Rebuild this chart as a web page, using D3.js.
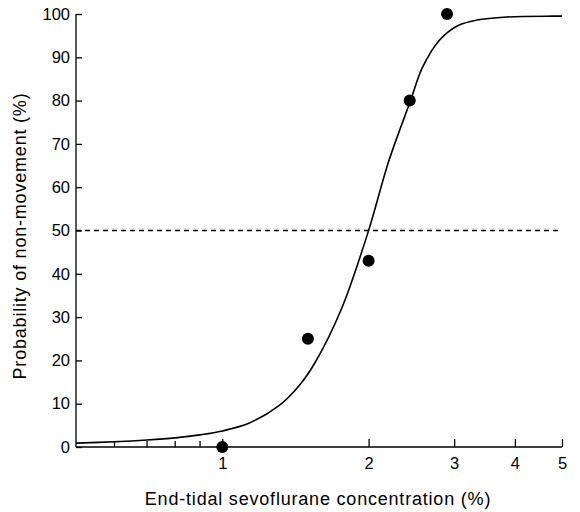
<!DOCTYPE html>
<html lang="en">
<head>
<meta charset="utf-8">
<title>Sevoflurane non-movement</title>
<script src="https://d3js.org/d3.v7.min.js"></script>
<style>
  body { margin: 0; background: #fff; }
  text { font-family: "Liberation Sans", Arial, Helvetica, sans-serif; fill: #000; }
  .axis path, .axis line { stroke: #000; stroke-width: 1.3; }
</style>
</head>
<body>
<script>
// observed points
var obsConc = [1, 1.5, 2, 2.43, 2.9];
var obsProb = [0, 25, 43, 80, 100];

// fitted curve
var curveConc = [0.5, 0.6, 0.7, 0.8, 0.9, 1.0, 1.14, 1.31, 1.44, 1.55, 1.76, 2.0, 2.2, 2.44, 2.58, 2.8, 3.05, 3.34, 3.85, 4.78, 5];
var curveProb = [0.9, 1.2, 1.6, 2.1, 2.8, 3.7, 5.6, 9.6, 14.2, 19.4, 32, 50, 66, 80, 87.6, 94, 97.3, 98.6, 99.3, 99.5, 99.5];

var xMajor = [1, 2, 3, 4, 5];
var xMinor = [0.6, 0.7, 0.8, 0.9];
var yTicks = [0, 10, 20, 30, 40, 50, 60, 70, 80, 90, 100];

var w = 580, h = 512;
var margin = {top: 14, right: 18, bottom: 65, left: 76};
var innerW = w - margin.left - margin.right,
    innerH = h - margin.top - margin.bottom;

var x = d3.scaleLog().domain([0.5, 5]).range([0, innerW]);
var y = d3.scaleLinear().domain([0, 100]).range([innerH, 0]);

var svg = d3.select('body').append('svg')
    .attr('width', w)
    .attr('height', h)
  .append('g')
    .attr('transform', 'translate(' + [margin.left, margin.top] + ')');

// y axis
var yAxis = d3.axisLeft(y).tickValues(yTicks).tickSize(-6).tickPadding(3);
svg.append('g').attr('class', 'y axis')
    .call(yAxis)
    .call(function(g) {
      g.select('.domain').attr('d', 'M0,' + innerH + 'V0');
      g.selectAll('text').style('font-size', '16.5px').attr('x', -6);
    });

// x axis, ticks pointing up
var xAxis = d3.axisBottom(x).tickValues(xMajor).tickFormat(d3.format('d')).tickSize(-8).tickPadding(6);
var gx = svg.append('g').attr('class', 'x axis')
    .attr('transform', 'translate(0,' + innerH + ')')
    .call(xAxis)
    .call(function(g) {
      g.select('.domain').attr('d', 'M0,0H' + innerW);
      g.selectAll('text').style('font-size', '16.5px').attr('y', 10);
    });
gx.selectAll('.minor')
    .data(xMinor)
  .enter().append('line')
    .attr('class', 'minor')
    .attr('x1', function(d) { return x(d); })
    .attr('x2', function(d) { return x(d); })
    .attr('y1', 0).attr('y2', -6);

// 50% reference
svg.append('line')
    .attr('x1', 0).attr('x2', innerW - 2)
    .attr('y1', y(50)).attr('y2', y(50))
    .style('stroke', '#000').style('stroke-width', 1.4)
    .style('stroke-dasharray', '5,4');

// fitted curve
var pts = curveConc.map(function(c, i) { return [x(c), y(curveProb[i])]; });
var line = d3.line().curve(d3.curveCatmullRom.alpha(0.5));
svg.append('path')
    .attr('d', line(pts))
    .style('fill', 'none').style('stroke', '#000').style('stroke-width', 1.6);

// observed points
svg.selectAll('.dot')
    .data(obsConc)
  .enter().append('circle')
    .attr('class', 'dot')
    .attr('cx', function(d) { return x(d); })
    .attr('cy', function(d, i) { return y(obsProb[i]); })
    .attr('r', 6)
    .style('fill', '#000');

// axis titles
svg.append('text')
    .attr('x', innerW / 2 - 1)
    .attr('y', innerH + 58)
    .attr('text-anchor', 'middle')
    .style('font-size', '18px')
    .style('letter-spacing', '0.8px')
    .text('End-tidal sevoflurane concentration (%)');
svg.append('text')
    .attr('transform', 'translate(' + [-50, 222] + ') rotate(-90)')
    .attr('text-anchor', 'middle')
    .style('font-size', '18px')
    .style('letter-spacing', '0.8px')
    .text('Probability of non-movement (%)');
</script>
</body>
</html>
